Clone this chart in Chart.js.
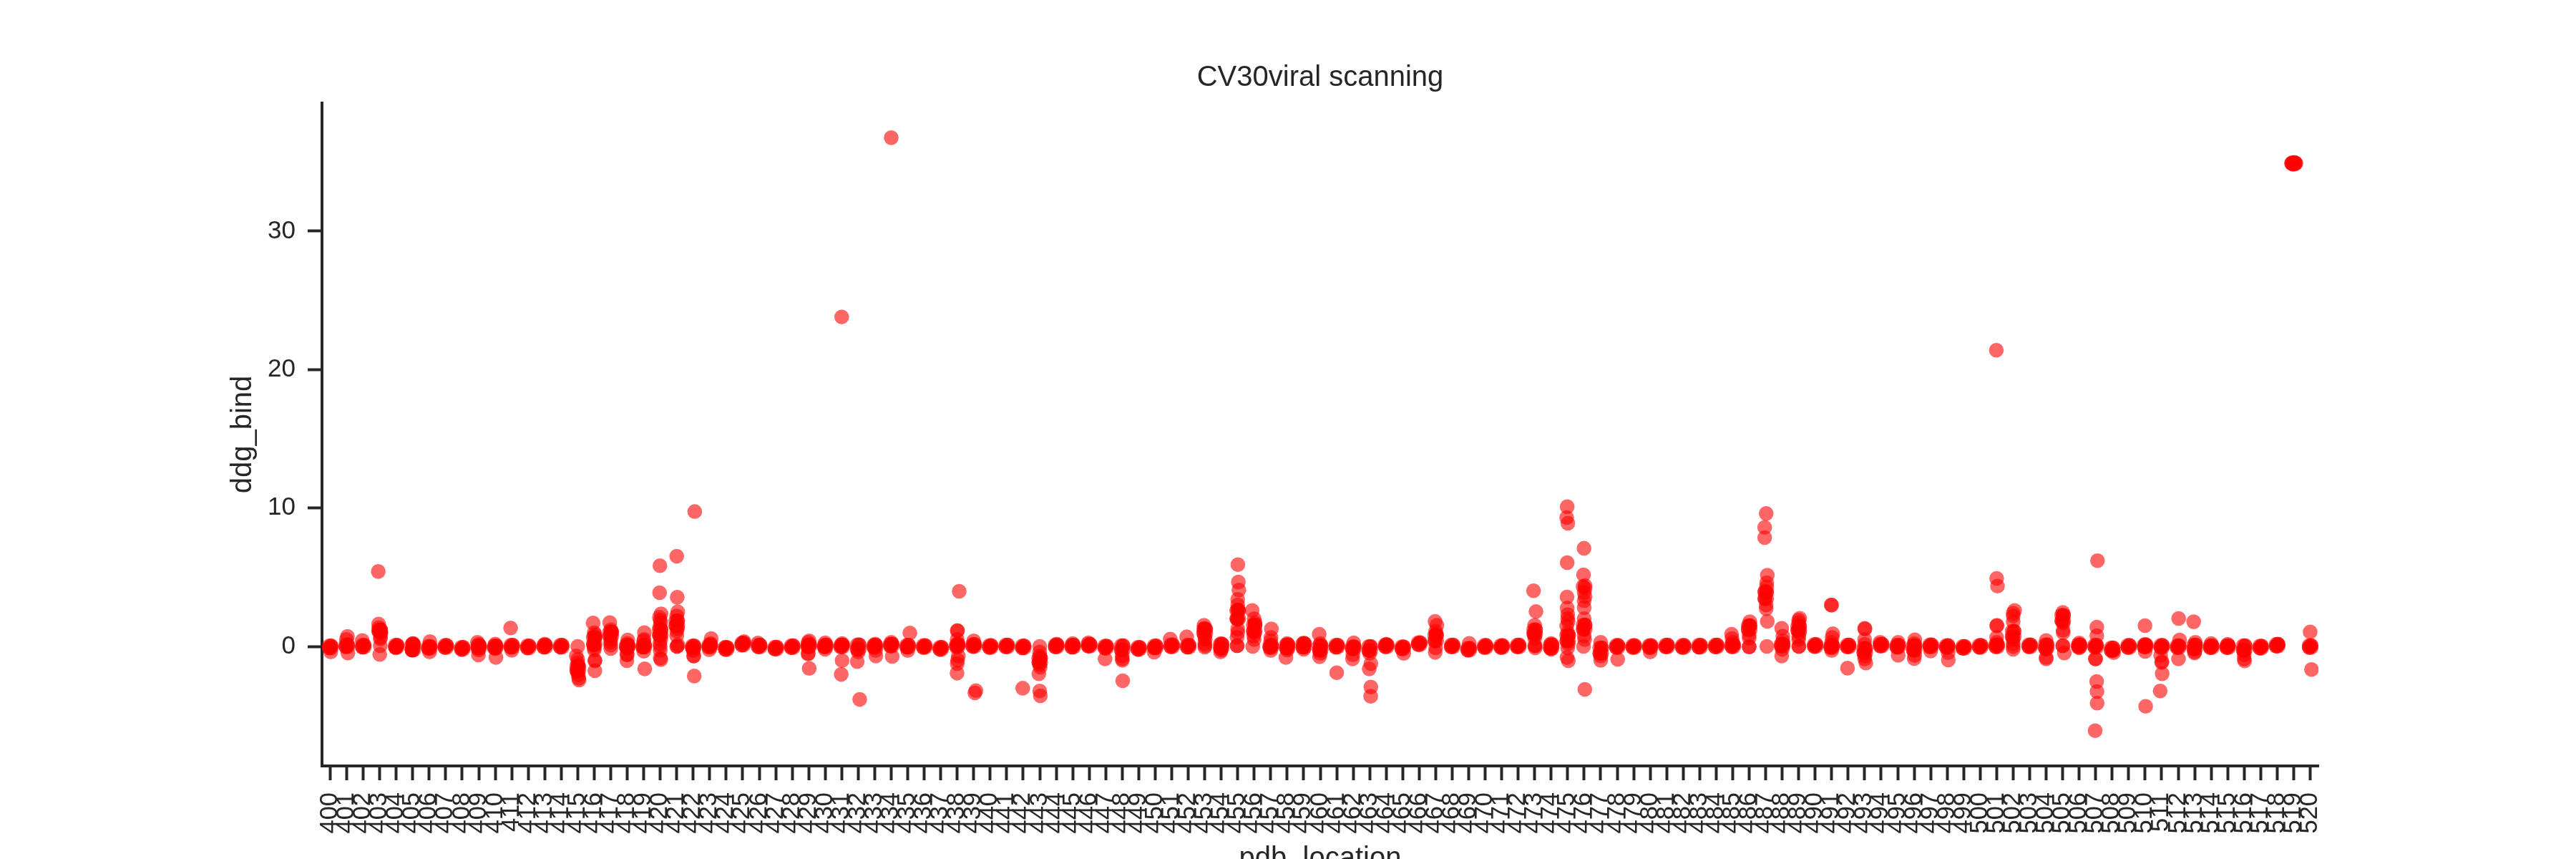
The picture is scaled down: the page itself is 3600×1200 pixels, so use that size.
<!DOCTYPE html>
<html>
<head>
<meta charset="utf-8">
<title>CV30viral scanning</title>
<script src="https://cdn.jsdelivr.net/npm/chart.js@4/dist/chart.umd.min.js"></script>
<style>
  html, body { margin: 0; padding: 0; background: #fff; }
  canvas { display: block; }
</style>
</head>
<body>
<canvas id="stripChart" width="3600" height="1200"></canvas>
<script>
const chartTitle = "CV30viral scanning";
const xTitle = "pdb_location";
const yTitle = "ddg_bind";
const yTicks = [0, 10, 20, 30];

const pdbLocations = [
  400, 401, 402, 403, 404, 405, 406, 407, 408, 409, 410, 411, 412, 413, 414, 415, 416, 417, 418, 419,
  420, 421, 422, 423, 424, 425, 426, 427, 428, 429, 430, 431, 432, 433, 434, 435, 436, 437, 438, 439,
  440, 441, 442, 443, 444, 445, 446, 447, 448, 449, 450, 451, 452, 453, 454, 455, 456, 457, 458, 459,
  460, 461, 462, 463, 464, 465, 466, 467, 468, 469, 470, 471, 472, 473, 474, 475, 476, 477, 478, 479,
  480, 481, 482, 483, 484, 485, 486, 487, 488, 489, 490, 491, 492, 493, 494, 495, 496, 497, 498, 499,
  500, 501, 502, 503, 504, 505, 506, 507, 508, 509, 510, 511, 512, 513, 514, 515, 516, 517, 518, 519,
  520
];

// top and bottom of the solid band at each site, ten sites per line from 400
const bandHigh = [
  0.04, 0.12, 0.09, 1.2, 0.09, 0.12, 0, 0.07, -0.07, 0.04,
  0.04, 0.09, 0.04, 0.09, 0.09, -1.45, 0.65, 1.05, 0.07, 0.09,
  1.2, 1.85, 0.04, 0.1, -0.08, 0.25, 0.1, -0.05, 0.05, 0.12,
  0.1, 0.1, 0.12, 0.09, 0.17, 0.09, 0.06, -0.07, 0.12, 0.14,
  0.06, 0.1, 0.04, -0.85, 0.1, 0.09, 0.15, 0.02, 0.05, -0.07,
  0.04, 0.12, 0.09, 1.25, 0.15, 2.6, 1.55, 0.07, 0.12, 0.2,
  0.05, 0.09, -0.03, 0, 0.12, -0.03, 0.27, 0.8, 0.1, -0.13,
  0.07, 0.06, 0.1, 1.2, 0.12, 0.8, 1.55, -0.1, 0.07, 0.06,
  0.06, 0.1, 0.07, 0.09, 0.1, 0.12, 1.5, 3.9, 0.17, 1.45,
  0.14, 0.07, 0.1, -0.15, 0.17, 0.09, 0.05, 0.12, 0.06, 0,
  0.08, 0.12, 1.1, 0.12, 0.12, 2.25, 0.12, 0.09, -0.1, 0.07,
  0.1, 0.07, 0.05, 0.1, 0.05, 0.05, 0.05, 0.02, 0.15, 34.95,
  0.06
];
const bandLow = [
  -0.1, -0.02, -0.05, 1.08, -0.05, -0.25, -0.14, -0.07, -0.21, -0.1,
  -0.1, -0.05, -0.1, -0.05, -0.05, -1.75, 0.15, 0.75, -0.07, -0.05,
  0.8, 1.5, -0.1, -0.04, -0.22, 0.11, -0.04, -0.19, -0.09, -0.02,
  -0.04, -0.04, -0.2, -0.05, 0.03, -0.05, -0.08, -0.21, -0.02, 0,
  -0.08, -0.04, -0.1, -1.15, -0.04, -0.05, 0.01, -0.12, -0.25, -0.21,
  -0.1, -0.02, -0.05, 0.95, -0.12, 2, 1.1, -0.07, -0.12, -0.05,
  -0.25, -0.05, -0.17, -0.3, -0.02, -0.17, 0.13, 0.4, -0.04, -0.27,
  -0.07, -0.08, -0.04, 0.9, -0.12, 0.4, 1.25, -0.5, -0.07, -0.08,
  -0.08, -0.04, -0.07, -0.05, -0.04, -0.02, 1.2, 3.45, 0.03, 1.15,
  0, -0.07, -0.04, -0.45, 0.03, -0.05, -0.25, -0.02, -0.08, -0.14,
  -0.06, -0.02, 0.7, -0.02, -0.12, 1.85, -0.02, -0.05, -0.3, -0.07,
  -0.04, -0.07, -0.09, -0.16, -0.09, -0.09, -0.25, -0.12, 0.01, 34.85,
  -0.08
];
// strip offsets of the three points kept at each band edge
const highJitter = [-0.06, 0.055, 0.05];
const lowJitter = [0.06, -0.055, -0.05];

// points that stick out of the band, with their strip offsets
const extraSites = [
  400, 401, 402, 403, 404, 405, 406, 409, 410, 411, 413, 415, 416, 417, 418, 419, 420, 421, 422, 423, 424, 425, 426,
  429, 430, 431, 432, 433, 434, 435, 438, 439, 442, 443, 444, 445, 446, 447, 448, 450, 451, 452, 453, 454, 455, 456,
  457, 458, 459, 460, 461, 462, 463, 464, 465, 467, 469, 473, 474, 475, 476, 477, 478, 480, 485, 486, 487, 488, 489,
  491, 492, 493, 494, 495, 496, 497, 498, 501, 502, 504, 505, 506, 507, 508, 510, 511, 512, 513, 514, 515, 516, 518,
  519, 520
];
const extraDdg = [
  [-0.4], [0.72, 0.5, -0.48], [0.43], [5.41, 1.62, 1.36, 1.05, 0.95, 0.65, 0.55, 0.05, -0.58], [-0.1], [0.2, 0.2, -0.25, -0.25], [0.35, -0.4],
  [0.3, 0.15, -0.25, -0.62], [0.17, -0.15, -0.8], [1.33, -0.28], [0.17],
  [0, -0.69, -0.95, -1.2, -1.4, -1.85, -2.05, -2.3, -2.43],
  [1.69, 1, 0.85, 0.7, 0.1, -0.1, -0.25, -1, -1.05, -1.76],
  [1.72, 1.2, 1.05, 0.5, 0.3, 0.1, -0.15],
  [0.47, 0.2, -0.15, -0.6, -0.6, -1.03],
  [1, 0.5, 0.4, -0.35, -1.62],
  [5.83, 3.88, 2.35, 2.1, 1.9, 1.7, 1.4, 0.8, 0.5, 0.2, 0, -0.3, -0.85, -0.95],
  [6.52, 3.55, 2.5, 2.2, 1.3, 1.1, 0.75, 0.1, 0, 0],
  [9.74, -0.3, -0.69, -0.69, -2.14], [0.57, 0.2, -0.24], [-0.05], [0.35], [0.24],
  [0.4, 0.3, -0.5, -0.55, -1.59], [0.26, -0.2], [23.8, 0.2, -1.02, -2.02], [-0.4, -1.1, -3.83], [0.17, -0.3, -0.69], [36.75, 0.3, -0.72], [0.97, -0.3],
  [3.98, 1.14, 1.14, 0.5, 0.2, -0.7, -1, -1.24, -1.93],
  [0.4, -3.19, -3.36],
  [-3.02], [0, -0.4, -0.7, -1.3, -1.5, -1.98, -3.22, -3.57], [0.17], [0.2], [0.26], [-0.9], [-0.7, -0.9, -1, -2.48], [-0.41], [0.53], [0.69],
  [1.52, 1.3, 0.7, 0.5, 0.2, 0.05, -0.05],
  [0.2, -0.25, -0.4],
  [5.91, 4.65, 4.07, 3.4, 3, 2.65, 1.95, 1.26, 1, 0.66, 0.05, 0.05],
  [2.6, 2, 1.7, 1, 0.75, 0.5, 0],
  [1.26, 0.65, 0.4, -0.3], [0.2, -0.25, -0.8], [0.25, -0.2], [0.88, 0.2, -0.3, -0.5, -0.75], [-1.9], [0.26, -0.6, -0.9],
  [-0.5, -1.24, -1.62, -2.93, -3.6], [0.15], [-0.5], [1.81, 1.52, 1.1, 0.9, -0.1, -0.43], [0.22],
  [4.02, 2.52, 1.52, 0.8, 0.6, 0.05, 0.05, -0.1],
  [0.2, -0.2],
  [10.09, 9.31, 8.9, 6.05, 3.57, 2.76, 2.3, 2, 1.8, 1.47, 1, 0.2, -0.1, -0.8, -1.03],
  [7.09, 5.17, 4.4, 4.33, 4.2, 3.9, 3.6, 3.3, 2.8, 2, 0.75, 0.5, 0, -3.1],
  [0.3, -0.7, -1], [-0.93], [-0.4], [0.88, 0.57, 0.3],
  [1.78, 1.5, 0.83, 0.6, -0.03, -0.03],
  [9.6, 8.6, 7.86, 5.14, 4.6, 4.3, 4, 3, 2.72, 1.81, 0],
  [1.31, 0.74, 0.4, -0.2, -0.69],
  [2.03, 1.9, 1.7, 1, 0.7, 0.5, 0, 0],
  [2.98, 3, 0.91, 0.65, 0.3, -0.3], [-1.57], [1.26, 1.3, 0.5, 0.15, -0.7, -0.9, -1.2], [0.3], [0.3, -0.64], [0.48, 0.2, -0.3, -0.65, -0.88], [-0.33], [-0.45, -0.98],
  [21.4, 4.91, 4.36, 1.48, 1.52, 0.65, 0.3],
  [2.6, 2.4, 2.2, 1.8, 0.5, 0.2, 0, -0.2],
  [0.43, -0.2, -0.8, -0.9],
  [2.45, 1.7, 1.17, 1, 0.05, 0.05, -0.47],
  [0.25, -0.1],
  [6.19, 1.4, 0.78, -0.9, -0.9, -2.53, -3.26, -4.1, -6.09],
  [-0.3, -0.45], [1.5, 0.15, -0.36, -4.33], [-0.64, -1.1, -1.16, -1.97, -3.22], [2.02, 0.47, -0.9], [1.78, 0.3, -0.4, -0.47], [0.2], [0.15],
  [-0.3, -0.6, -0.9, -1.05], [0.15],
  [34.9, 34.9, 34.9, 34.9],
  [1.05, -1.67]
];
const extraJitter = [
  [0.03], [0.04, -0.02, 0.07], [-0.06], [-0.09, -0.07, -0.05, 0.05, 0.07, 0.05, 0.03, 0.03, 0], [-0.02], [0, 0.03, 0, -0.03], [0.04, 0.02],
  [-0.08, 0, 0, -0.02], [0, 0, 0.04], [-0.07, 0], [0],
  [0, -0.09, 0, 0, 0.02, 0, 0.03, 0.06, 0.08],
  [-0.07, 0, 0.05, 0.02, 0, 0, 0, 0.04, 0.04, 0.04],
  [-0.06, 0, 0.04, 0, -0.02, 0, 0],
  [0.03, 0, 0, 0, -0.02, -0.02],
  [0.04, 0.02, 0, 0, 0.06],
  [-0.02, -0.04, 0.05, -0.05, 0, 0.03, -0.03, 0, 0.03, -0.03, 0, 0, 0, 0.04],
  [0, 0.03, 0.06, 0, 0.05, 0, 0, 0.07, 0.03, 0],
  [0.09, 0, 0.04, 0.02, 0.06], [0.09, 0.05, -0.03], [-0.05], [0.08], [-0.08],
  [0.03, -0.04, -0.03, -0.04, 0.03], [0, -0.01], [0, 0.03, 0.02, -0.03], [0, -0.06, 0.09], [0.03, 0.05, 0.07], [0, 0, 0.06], [0.13, 0],
  [0.12, 0, 0.02, 0, 0.05, 0.07, 0.02, 0, -0.01],
  [0, 0.13, 0.07],
  [-0.03], [0, 0, 0, 0, 0.03, -0.05, 0, 0.04], [0.03], [0], [-0.05], [-0.04], [0, 0, 0.01, 0.03], [-0.06], [-0.09], [-0.09],
  [-0.04, -0.02, 0, 0.03, 0, 0.03, 0],
  [0, 0, -0.04],
  [0.01, 0.04, 0.07, 0, 0, 0, 0, 0, 0, -0.04, -0.04, -0.03],
  [-0.12, 0, 0.05, 0.03, -0.03, 0, -0.09],
  [0.04, 0.02, 0, 0], [0, 0, -0.08], [0, 0], [-0.06, 0, 0, 0, -0.04], [0], [0.03, -0.02, -0.04],
  [0, 0.07, -0.03, 0.07, 0.06], [0], [0.06], [-0.04, 0.07, 0, 0.02, 0, -0.03], [0.03],
  [-0.07, 0.08, 0, 0, 0, 0, 0.03, 0.03],
  [0, 0],
  [-0.03, -0.06, 0.01, -0.03, -0.04, -0.03, 0, 0, 0.03, -0.06, 0, 0.03, 0, -0.04, 0.04],
  [-0.01, -0.04, 0.05, -0.07, 0.05, 0, 0.05, 0, 0, 0, 0, 0.03, -0.04, 0.04],
  [0, 0, 0], [0.03], [0], [-0.07, -0.04, 0],
  [0.04, 0, 0, 0, 0, 0],
  [0.03, -0.06, -0.06, 0.1, 0.06, 0.06, -0.04, 0.03, 0.03, 0.1, 0.07],
  [-0.03, 0.04, 0.04, 0, -0.03],
  [0.06, 0, 0, 0.04, 0, 0, 0, 0.02],
  [0, -0.03, 0.07, 0.03, 0, 0], [-0.04], [0.02, 0, 0, 0, 0, 0, 0.07], [-0.07], [0.03, 0.03], [0.04, 0, 0, 0.03, 0], [0], [0.06, 0.07],
  [-0.02, 0, 0.05, 0, 0.02, 0, 0],
  [0.09, 0, 0, 0, 0, 0, 0, 0],
  [0, 0, 0, 0],
  [0.01, 0.03, 0.03, 0.03, 0, 0.02, 0.1],
  [0, 0],
  [0.11, 0.07, 0.07, 0, -0.02, 0.06, 0.08, 0.09, -0.03],
  [0.05, 0.09], [-0.01, 0, 0, 0.03], [-0.06, 0.02, 0, 0.03, -0.09], [0.03, 0.09, 0.02], [-0.06, 0.04, 0, -0.01], [0], [0],
  [0, 0, 0, 0.03], [0.03],
  [-0.13, 0.13, -0.12, 0.12],
  [0, 0.08]
];

const points = [];
pdbLocations.forEach((site, i) => {
  highJitter.forEach(j => points.push({ x: site + j, y: bandHigh[i] }));
  lowJitter.forEach(j => points.push({ x: site + j, y: bandLow[i] }));
});
extraSites.forEach((site, i) => {
  extraDdg[i].forEach((v, j) => points.push({ x: site + extraJitter[i][j], y: v }));
});

const ink = "#262626";

new Chart(document.getElementById("stripChart"), {
  type: "scatter",
  data: {
    datasets: [{
      data: points,
      backgroundColor: "rgba(255,0,0,0.6)",
      borderWidth: 0,
      pointRadius: 10.3,
      pointHoverRadius: 10.3,
      clip: 0
    }]
  },
  options: {
    responsive: false,
    animation: false,
    devicePixelRatio: 1,
    layout: { padding: { right: 360 } },
    plugins: {
      legend: { display: false },
      tooltip: { enabled: false },
      title: {
        display: true,
        fullSize: false,
        text: chartTitle,
        color: ink,
        font: { family: "Liberation Sans", size: 40, weight: "normal", lineHeight: 1.2 },
        padding: { top: 85, bottom: 11 }
      }
    },
    scales: {
      x: {
        type: "linear",
        min: 399.5,
        max: 520.5,
        afterFit: s => { s.height = 130; },
        afterBuildTicks: s => { s.ticks = pdbLocations.map(v => ({ value: v })); },
        border: { display: true, color: ink, width: 4 },
        grid: { drawOnChartArea: false, drawTicks: true, tickLength: 20, tickWidth: 4, tickColor: ink },
        ticks: {
          autoSkip: false,
          minRotation: 90,
          maxRotation: 90,
          padding: 17,
          color: ink,
          font: { family: "Liberation Sans", size: 34.5 },
          callback: v => String(v)
        },
        title: {
          display: true,
          text: xTitle,
          color: ink,
          font: { family: "Liberation Sans", size: 40, lineHeight: 1.2 },
          padding: { top: 0, bottom: -24 }
        }
      },
      y: {
        type: "linear",
        min: -8.635,
        max: 39.25,
        afterFit: s => { s.width = 450; },
        afterBuildTicks: s => { s.ticks = yTicks.map(v => ({ value: v })); },
        border: { display: true, color: ink, width: 4 },
        grid: { drawOnChartArea: false, drawTicks: true, tickLength: 20, tickWidth: 4, tickColor: ink },
        ticks: {
          padding: 17,
          color: ink,
          font: { family: "Liberation Sans", size: 35 },
          callback: v => String(v)
        },
        title: {
          display: true,
          text: yTitle,
          color: ink,
          font: { family: "Liberation Sans", size: 40, lineHeight: 1.2 },
          padding: { top: 316, bottom: 0 }
        }
      }
    }
  }
});
</script>
</body>
</html>
